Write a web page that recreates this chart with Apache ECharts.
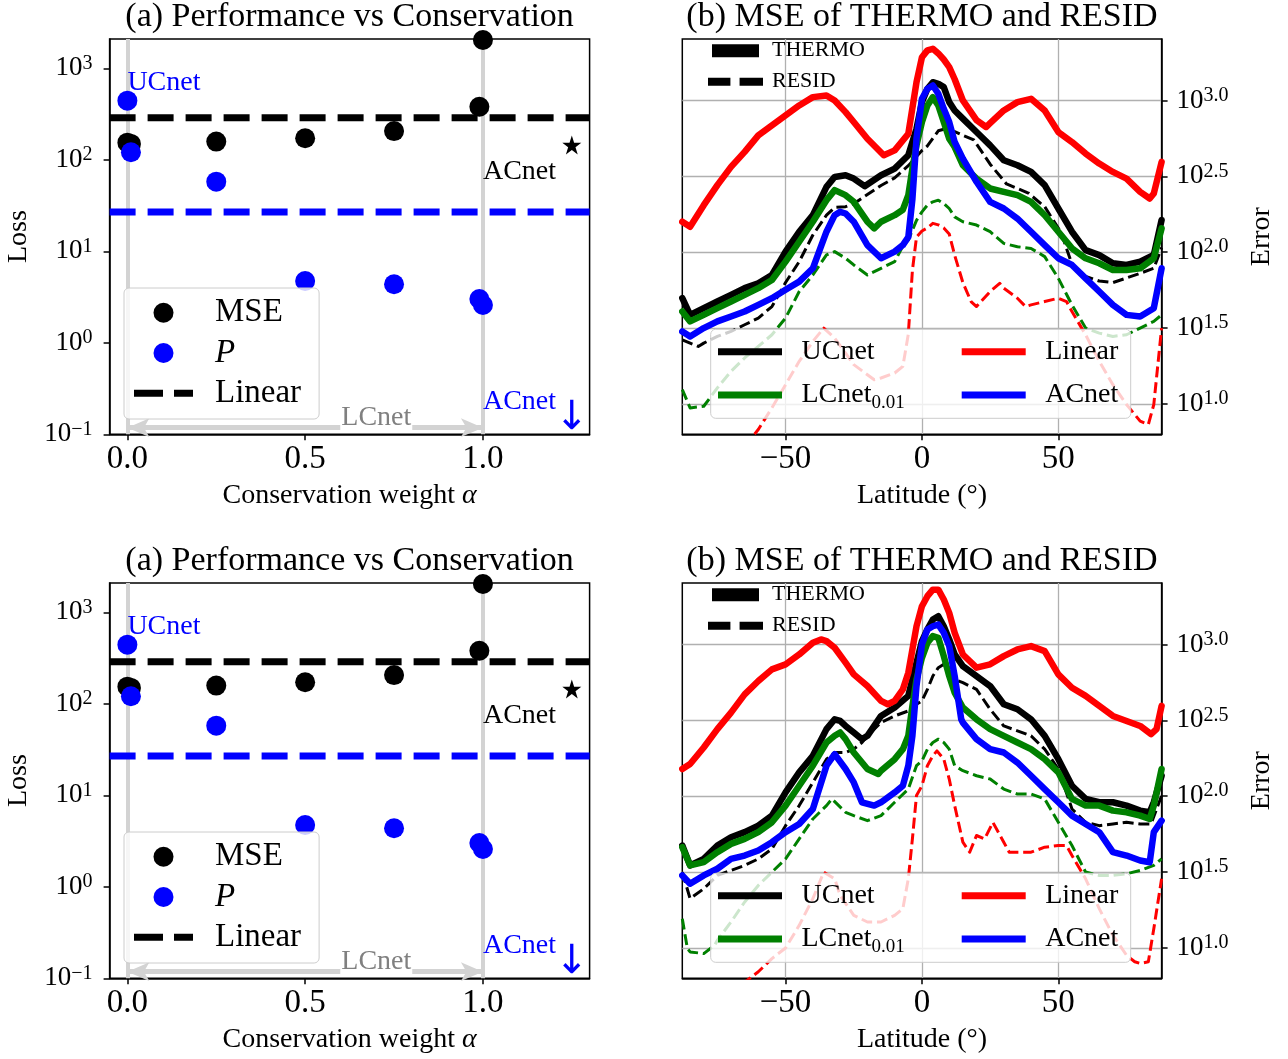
<!DOCTYPE html>
<html>
<head>
<meta charset="utf-8">
<title>Performance vs Conservation / MSE of THERMO and RESID</title>
<script src="https://cdn.jsdelivr.net/npm/echarts@6/dist/echarts.min.js"></script>
<style>
html, body { margin:0; padding:0; background:#ffffff; }
body { width:1288px; height:1059px; position:relative; overflow:hidden; }
.panel { position:absolute; }
</style>
</head>
<body>
<div id="a-top" class="panel" style="left:0px;top:0px;width:640px;height:515px;"></div>
<div id="b-top" class="panel" style="left:640px;top:0px;width:648px;height:515px;"></div>
<div id="a-bot" class="panel" style="left:0px;top:544px;width:640px;height:515px;"></div>
<div id="b-bot" class="panel" style="left:640px;top:544px;width:648px;height:515px;"></div>
<script>
// ================= Panel (a) data =================
const alphaValues = [0, 0.01, 0.25, 0.5, 0.75, 0.99, 1.0];
const mseLoss     = [154, 149, 158, 172, 206, 380, 2040];
const physLoss    = [443, 121, 57.7, 4.73, 4.36, 3.01, 2.59];
const linearMSE  = 288;
const linearPhys = 26.9;
const acnetAlpha = 1.25;
const acnetMSE   = 145;
const lcnetAlphaRange = [0, 1];
const guideAlphas = [0, 1];
const alphaRange = [-0.05, 1.3];
const lossRange  = [0.0999, 2090];
const alphaTicks = [0, 0.5, 1];
const lossTicks  = [0.1, 1, 10, 100, 1000];
const lcnetArrowLevel = 0.118;
const annotationsA = [
  { text: 'UCnet', at: [0, 700],      color: '#0000ff', anchor: 'left' },
  { text: 'ACnet', at: [1.0, 74],     color: '#000000', anchor: 'left' },
  { text: 'ACnet', at: [1.0, 0.227],  color: '#0000ff', anchor: 'left' },
  { text: 'LCnet', at: [0.70, 0.152], color: '#808080', anchor: 'center', bg: true },
  { text: '\u2193', at: [1.25, 0.15], color: '#0000ff', anchor: 'center', arrow: true }
];

// ================= Panel (b) data: [latitude, log10(error)] =================
const latRange   = [-87.86, 87.86];
const latTicks   = [-50, 0, 50];
const errorRange = [6.31, 2541];
const errorTicks = [10, 31.623, 100, 316.23, 1000];

// ---- top row ----
const ucnetThermoTop = [[-87.86,1.697],[-85,1.587],[-80,1.631],[-75,1.675],[-70,1.719],[-65,1.763],[-60,1.795],[-55,1.850],[-50,2.004],[-45,2.135],[-40,2.244],[-35,2.431],[-32,2.496],[-28,2.507],[-25,2.485],[-21,2.435],[-15,2.507],[-10,2.551],[-5,2.639],[-2,2.814],[0,2.989],[2,3.077],[4,3.12],[6,3.11],[8,3.088],[10,2.989],[12,2.934],[15,2.880],[20,2.792],[25,2.704],[30,2.606],[35,2.573],[40,2.529],[45,2.442],[50,2.288],[55,2.135],[60,2.014],[65,1.981],[70,1.927],[75,1.916],[80,1.938],[85,1.982],[87.86,2.212]];
const lcnetThermoTop = [[-87.86,1.609],[-85,1.544],[-80,1.587],[-75,1.631],[-70,1.675],[-65,1.719],[-60,1.763],[-55,1.817],[-50,1.938],[-45,2.069],[-40,2.201],[-35,2.343],[-32,2.409],[-28,2.376],[-25,2.332],[-20,2.201],[-17.5,2.157],[-15,2.201],[-10,2.244],[-7,2.28],[-5,2.376],[-3.5,2.551],[-2,2.704],[0,2.858],[2,2.967],[4,3.022],[6,2.967],[8,2.858],[10,2.748],[12,2.693],[15,2.573],[20,2.485],[25,2.420],[30,2.398],[35,2.376],[40,2.332],[45,2.244],[50,2.135],[55,2.026],[60,1.960],[65,1.927],[70,1.883],[75,1.883],[80,1.894],[85,1.960],[87.86,2.157]];
const linearThermoTop = [[-87.86,2.201],[-85,2.168],[-80,2.310],[-75,2.442],[-70,2.562],[-65,2.661],[-60,2.770],[-55,2.836],[-50,2.901],[-45,2.967],[-40,3.022],[-35,3.033],[-32,3.000],[-28,2.923],[-25,2.858],[-20,2.748],[-14,2.639],[-10,2.671],[-5,2.781],[-2,3.12],[0,3.285],[2,3.33],[4,3.34],[6,3.31],[8,3.27],[10,3.22],[12,3.14],[15,3.00],[20,2.87],[23.5,2.825],[25,2.85],[30,2.934],[35,2.989],[40,3.011],[45,2.934],[50,2.792],[55,2.726],[60,2.650],[65,2.584],[70,2.529],[75,2.485],[80,2.398],[83.5,2.354],[85,2.387],[87.86,2.595]];
const acnetThermoTop = [[-87.86,1.478],[-85,1.445],[-80,1.500],[-75,1.544],[-70,1.576],[-65,1.609],[-60,1.653],[-55,1.697],[-50,1.752],[-45,1.806],[-40,1.894],[-35,2.135],[-32,2.244],[-30,2.266],[-28,2.255],[-25,2.201],[-20,2.047],[-15,1.960],[-10,2.004],[-7,2.047],[-5,2.10],[-3.5,2.35],[-2,2.75],[0,3.011],[2,3.077],[4,3.099],[6,3.044],[8,2.945],[10,2.858],[12,2.726],[15,2.617],[20,2.464],[25,2.332],[30,2.288],[35,2.222],[40,2.135],[45,2.047],[50,1.960],[55,1.916],[60,1.828],[65,1.741],[70,1.653],[75,1.587],[80,1.576],[85,1.631],[87.86,1.894]];
const ucnetResidTop = [[-87.86,1.423],[-85,1.401],[-82,1.379],[-80,1.401],[-75,1.445],[-70,1.478],[-65,1.522],[-60,1.566],[-55,1.642],[-50,1.80],[-45,1.938],[-40,2.113],[-35,2.244],[-32,2.295],[-28,2.30],[-25,2.32],[-20,2.38],[-15,2.44],[-10,2.49],[-5,2.57],[-2,2.63],[0,2.67],[2,2.70],[4,2.75],[6,2.80],[8,2.81],[10,2.80],[12,2.795],[15,2.77],[19,2.74],[25,2.58],[31,2.45],[35,2.42],[39,2.39],[45,2.30],[51,2.13],[55,1.92],[60,1.84],[65,1.81],[70,1.80],[75,1.83],[80,1.861],[85,1.894],[87.86,2.03]];
const lcnetResidTop = [[-87.86,1.095],[-85,0.974],[-80,0.985],[-75,1.106],[-70,1.215],[-65,1.303],[-60,1.379],[-55,1.456],[-50,1.566],[-45,1.741],[-40,1.850],[-35,1.982],[-32,2.004],[-28,1.960],[-25,1.916],[-20,1.850],[-15,1.894],[-10,1.938],[-7,2.04],[-5,2.08],[-2,2.21],[0,2.266],[2,2.310],[4,2.332],[6,2.343],[8,2.321],[10,2.288],[12,2.233],[15,2.201],[20,2.179],[25,2.135],[30,2.058],[35,2.036],[40,2.025],[45,1.971],[50,1.828],[55,1.653],[60,1.500],[65,1.467],[70,1.445],[75,1.456],[80,1.500],[85,1.544],[87.86,1.587]];
const linearResidTop = [[-65,0.72],[-60,0.832],[-55,0.974],[-50,1.127],[-45,1.281],[-40,1.412],[-36,1.500],[-32,1.434],[-28,1.335],[-25,1.259],[-20,1.193],[-17.5,1.160],[-15,1.171],[-10,1.204],[-7,1.248],[-5,1.46],[-3.5,1.88],[-2,2.10],[0,2.14],[2,2.16],[4,2.19],[6,2.18],[8,2.16],[10,2.12],[12,1.98],[15,1.80],[18,1.675],[20,1.642],[25,1.741],[28.5,1.795],[30,1.763],[35,1.697],[38,1.642],[40,1.653],[45,1.675],[50,1.697],[53,1.675],[55,1.609],[60,1.456],[65,1.281],[70,1.127],[75,0.996],[80,0.887],[83,0.865],[85,0.996],[87.86,1.500]];

// ---- bottom row ----
const ucnetThermoBot = [[-87.86,1.675],[-85,1.544],[-80,1.587],[-75,1.675],[-70,1.730],[-65,1.763],[-60,1.806],[-55,1.872],[-50,2.025],[-45,2.157],[-40,2.266],[-35,2.442],[-32,2.507],[-30,2.496],[-28,2.463],[-25,2.420],[-22,2.376],[-20,2.398],[-15,2.529],[-10,2.584],[-5,2.661],[-2,2.880],[0,3.022],[2,3.099],[4,3.164],[6,3.186],[8,3.120],[10,3.033],[12,2.934],[15,2.858],[20,2.792],[25,2.726],[30,2.606],[35,2.573],[40,2.507],[45,2.398],[50,2.244],[55,2.069],[60,1.982],[65,1.960],[70,1.960],[75,1.938],[80,1.905],[83.5,1.894],[85,1.960],[87.86,2.135]];
const lcnetThermoBot = [[-87.86,1.664],[-85,1.544],[-80,1.566],[-75,1.631],[-70,1.686],[-65,1.719],[-60,1.763],[-55,1.828],[-50,1.938],[-45,2.069],[-40,2.201],[-35,2.354],[-32,2.398],[-30,2.420],[-28,2.376],[-25,2.288],[-20,2.179],[-16,2.146],[-15,2.168],[-10,2.244],[-7,2.310],[-5,2.398],[-3.5,2.595],[-2,2.770],[0,2.912],[2,3.011],[4,3.055],[6,3.044],[8,2.923],[10,2.792],[12,2.682],[15,2.584],[20,2.507],[25,2.442],[30,2.398],[35,2.354],[40,2.310],[45,2.244],[50,2.157],[55,1.982],[60,1.938],[65,1.938],[70,1.905],[75,1.894],[80,1.872],[83.5,1.850],[85,1.938],[87.86,2.179]];
const linearThermoBot = [[-87.86,2.179],[-85,2.212],[-80,2.321],[-75,2.442],[-70,2.551],[-65,2.671],[-60,2.759],[-55,2.836],[-50,2.869],[-45,2.934],[-40,3.011],[-37,3.033],[-35,3.022],[-32,2.978],[-28,2.880],[-25,2.803],[-20,2.726],[-15,2.628],[-12.5,2.606],[-10,2.628],[-7,2.704],[-5,2.814],[-2,3.120],[0,3.252],[2,3.318],[4,3.361],[6,3.361],[8,3.296],[10,3.208],[12,3.077],[15,2.934],[20,2.847],[25,2.869],[30,2.923],[35,2.967],[40,2.989],[45,2.956],[50,2.803],[55,2.715],[60,2.661],[65,2.595],[70,2.529],[75,2.496],[80,2.463],[84,2.409],[86,2.442],[87.86,2.595]];
const acnetThermoBot = [[-87.86,1.478],[-85,1.423],[-80,1.478],[-75,1.522],[-70,1.587],[-65,1.609],[-60,1.642],[-55,1.697],[-50,1.763],[-45,1.817],[-40,1.916],[-35,2.201],[-32,2.277],[-28,2.179],[-25,2.091],[-22,1.960],[-17.5,1.938],[-15,1.960],[-10,2.025],[-7,2.069],[-5,2.201],[-3.5,2.398],[-2,2.726],[0,3.000],[2,3.099],[4,3.120],[6,3.131],[8,3.077],[10,2.989],[12,2.792],[14.4,2.507],[15,2.485],[20,2.376],[25,2.310],[30,2.288],[35,2.222],[40,2.135],[45,2.047],[50,1.960],[55,1.872],[60,1.817],[65,1.763],[70,1.631],[75,1.609],[80,1.576],[83.5,1.565],[85,1.763],[87.86,1.839]];
const ucnetResidBot = [[-87.86,1.500],[-85,1.325],[-80,1.390],[-75,1.478],[-70,1.511],[-65,1.544],[-60,1.587],[-55,1.653],[-50,1.806],[-45,1.938],[-40,2.091],[-35,2.244],[-32,2.288],[-28,2.288],[-25,2.310],[-22,2.354],[-20,2.398],[-15,2.485],[-10,2.529],[-5,2.562],[-2,2.606],[0,2.628],[2,2.704],[4,2.792],[6,2.847],[8,2.869],[10,2.814],[12,2.770],[15,2.748],[20,2.704],[25,2.573],[30,2.463],[35,2.431],[40,2.398],[45,2.310],[50,2.179],[55,1.916],[60,1.828],[65,1.806],[70,1.817],[75,1.828],[80,1.817],[84,1.817],[87.86,2.004]];
const lcnetResidBot = [[-87.86,1.193],[-86,0.996],[-85,0.974],[-80,0.963],[-76,1.018],[-75,1.051],[-70,1.171],[-65,1.303],[-60,1.412],[-55,1.500],[-50,1.587],[-45,1.719],[-40,1.850],[-35,1.938],[-33,1.982],[-28,1.894],[-25,1.872],[-20,1.839],[-15,1.872],[-10,1.960],[-5,2.047],[-2,2.201],[0,2.233],[2,2.310],[4,2.354],[6,2.376],[8,2.354],[10,2.310],[12,2.201],[15,2.168],[20,2.135],[25,2.113],[30,2.047],[35,2.014],[40,2.014],[45,1.982],[50,1.828],[55,1.675],[60,1.500],[65,1.478],[70,1.478],[75,1.489],[80,1.511],[85,1.544],[87.86,1.587]];
const linearResidBot = [[-66,0.76],[-60,0.843],[-55,0.93],[-50,1.00],[-45,1.149],[-40,1.325],[-36,1.500],[-32,1.456],[-30,1.347],[-25,1.215],[-20,1.171],[-15,1.171],[-10,1.215],[-7,1.259],[-5,1.456],[-3.5,1.719],[-2,2.004],[0,2.069],[2,2.201],[4,2.266],[5.5,2.299],[8,2.244],[10,2.113],[12,1.938],[15,1.697],[17.5,1.631],[20,1.741],[23,1.719],[26,1.828],[30,1.697],[32,1.631],[35,1.631],[40,1.631],[45,1.664],[50,1.675],[53,1.675],[55,1.609],[60,1.456],[65,1.259],[70,1.084],[75,0.952],[78,0.909],[80,0.898],[83,0.909],[85,1.127],[87.86,1.456]];

// ================= styling =================
const FONT = 'Liberation Serif';
const BLACK = '#000000', BLUE = '#0000ff', RED = '#ff0000', GREEN = '#008000';
const GUIDE = '#d3d3d3', GRIDC = '#b0b0b0';
const STAR = 'path://M50,0L61.8,35.1L98.8,35.1L68.9,56.9L80.3,91.9L50,70.2L19.7,91.9L31.1,56.9L1.2,35.1L38.2,35.1Z';
const supRich = {
  b: { fontFamily: FONT, fontSize: 27, lineHeight: 30, color: BLACK },
  s: { fontFamily: FONT, fontSize: 20, lineHeight: 20, verticalAlign: 'top', color: BLACK }
};

function axisLineStyle() { return { color: BLACK, width: 1.5 }; }

function buildPanelA(el) {
  const chart = echarts.init(el, null, { renderer: 'canvas', devicePixelRatio: 1 });
  const pts = (xs, ys) => xs.map((x, i) => [x, ys[i]]);
  const markData = annotationsA.map(a => ({
    coord: a.at,
    symbol: 'circle',
    symbolSize: 0,
    label: {
      show: true,
      formatter: a.text,
      position: a.anchor === 'left' ? 'right' : 'inside',
      distance: 0,
      color: a.color,
      fontFamily: a.arrow ? 'DejaVu Sans' : FONT,
      fontSize: a.arrow ? 40 : 28,
      lineHeight: a.arrow ? 40 : 30,
      backgroundColor: a.bg ? '#ffffff' : 'transparent',
      padding: a.bg ? [0, 1] : 0
    }
  }));
  chart.setOption({
    animation: false,
    backgroundColor: 'transparent',
    title: {
      text: '(a) Performance vs Conservation', left: 349.6, top: 0, textAlign: 'center', padding: 0,
      textStyle: { fontFamily: FONT, fontSize: 34, fontWeight: 'normal', color: BLACK, lineHeight: 34 }
    },
    grid: { left: 109.6, top: 39, width: 480, height: 395.3, show: true, borderColor: BLACK, borderWidth: 1.5,
            backgroundColor: 'transparent', containLabel: false, outerBoundsMode: 'none' },
    xAxis: {
      type: 'value', min: alphaRange[0], max: alphaRange[1],
      name: 'Conservation weight {i|α}', nameLocation: 'middle', nameGap: 44.7,
      nameTextStyle: { fontFamily: FONT, fontSize: 28, color: BLACK, lineHeight: 28,
        rich: { i: { fontFamily: FONT, fontSize: 28, fontStyle: 'italic', color: BLACK, lineHeight: 28 } } },
      axisLine: { show: true, onZero: false, lineStyle: axisLineStyle() },
      axisTick: { show: true, inside: false, length: 6, customValues: alphaTicks, lineStyle: axisLineStyle() },
      axisLabel: { show: true, customValues: alphaTicks, formatter: v => v.toFixed(1), fontFamily: FONT,
                   fontSize: 33, color: BLACK, margin: 9 },
      splitLine: { show: false }
    },
    yAxis: {
      type: 'log', logBase: 10, min: lossRange[0], max: lossRange[1],
      name: 'Loss', nameLocation: 'middle', nameRotate: 90, nameGap: 77,
      nameTextStyle: { fontFamily: FONT, fontSize: 28, color: BLACK, lineHeight: 28 },
      axisLine: { show: true, onZero: false, lineStyle: axisLineStyle() },
      axisTick: { show: true, inside: false, length: 6, customValues: lossTicks, lineStyle: axisLineStyle() },
      axisLabel: { show: true, customValues: lossTicks, margin: 17,
        formatter: v => { const e = Math.round(Math.log10(v)); return '{b|10}{s|' + (e < 0 ? '\u2212' + (-e) : e) + '}'; },
        rich: supRich },
      splitLine: { show: false }, minorTick: { show: false }, minorSplitLine: { show: false }
    },
    legend: {
      orient: 'vertical', left: 124, top: 288, padding: [7.7, 18, 8.7, 10],
      itemWidth: 59, itemHeight: 20, itemGap: 6.3, selectedMode: false,
      backgroundColor: 'rgba(255,255,255,0.8)', borderColor: '#cccccc', borderWidth: 1, borderRadius: 5,
      itemStyle: { borderWidth: 0, opacity: 1 },
      formatter: n => n === 'P' ? '{i|P}' : n,
      textStyle: { fontFamily: FONT, fontSize: 33, lineHeight: 34, color: BLACK, padding: [0, 0, 0, 17],
        rich: { i: { fontFamily: FONT, fontStyle: 'italic', fontSize: 33, lineHeight: 34, color: BLACK } } },
      data: [
        { name: 'MSE', icon: 'circle' },
        { name: 'P', icon: 'circle' },
        { name: 'Linear', icon: 'path://M0,0h29v7h-29z M40,0h19v7h-19z' }
      ]
    },
    series: [
      {
        type: 'line', name: 'Linear', color: BLACK, symbol: 'none', silent: true, z: 2,
        data: [[alphaRange[0], linearMSE], [alphaRange[1], linearMSE]],
        lineStyle: { color: BLACK, width: 7, type: [26, 12], cap: 'butt', opacity: 1 },
        markLine: {
          silent: true, z: 1, symbol: ['arrow', 'arrow'], symbolSize: [14, 22],
          label: { show: false },
          lineStyle: { color: GUIDE, width: 5, type: 'solid', opacity: 1 },
          data: [[{ coord: [lcnetAlphaRange[0], lcnetArrowLevel] }, { coord: [lcnetAlphaRange[1], lcnetArrowLevel] }]]
        }
      },
      {
        type: 'line', name: 'Linear P', color: BLUE, symbol: 'none', silent: true, z: 2,
        data: [[alphaRange[0], linearPhys], [alphaRange[1], linearPhys]],
        lineStyle: { color: BLUE, width: 7, type: [26, 12], cap: 'butt', opacity: 1 },
        markLine: {
          silent: true, z: 1, symbol: ['none', 'none'],
          label: { show: false },
          lineStyle: { color: GUIDE, width: 4, type: 'solid', opacity: 1 },
          data: guideAlphas.map(a => ({ xAxis: a }))
        }
      },
      { type: 'scatter', name: 'MSE', color: BLACK, data: pts(alphaValues, mseLoss), symbolSize: 20, z: 3, silent: true,
        itemStyle: { color: BLACK, opacity: 1 } },
      { type: 'scatter', name: 'P', color: BLUE, data: pts(alphaValues, physLoss), symbolSize: 20, z: 3, silent: true,
        itemStyle: { color: BLUE, opacity: 1 } },
      { type: 'scatter', name: 'ACnet MSE', color: BLACK, data: [[acnetAlpha, acnetMSE]], symbol: STAR, symbolSize: 19, z: 3, silent: true,
        itemStyle: { color: BLACK, opacity: 1 },
        markPoint: { silent: true, z: 5, data: markData } }
    ]
  });
}

function buildPanelB(el, d) {
  const chart = echarts.init(el, null, { renderer: 'canvas', devicePixelRatio: 1 });
  const toVals = pairs => pairs.map(p => [p[0], Math.pow(10, p[1])]);
  const solid = (name, pairs, color) => ({
    type: 'line', name, color, data: toVals(pairs), symbol: 'none', showSymbol: false, silent: true, z: 2, clip: true,
    itemStyle: { color, opacity: 1 },
    lineStyle: { color, width: 6.5, join: 'round', cap: 'round', opacity: 1 }
  });
  const dashed = (name, pairs, color) => ({
    type: 'line', name, color, data: toVals(pairs), symbol: 'none', showSymbol: false, silent: true, z: 2, clip: true,
    itemStyle: { color, opacity: 1 },
    lineStyle: { color, width: 3, type: [11, 4.8], join: 'round', cap: 'butt', opacity: 1 }
  });
  const legText = { fontFamily: FONT, fontSize: 28, lineHeight: 36, color: BLACK, padding: [0, 0, 0, 14.5],
    rich: {
      a: { fontFamily: FONT, fontSize: 28, lineHeight: 36, color: BLACK },
      s: { fontFamily: FONT, fontSize: 19, lineHeight: 20, verticalAlign: 'bottom', color: BLACK }
    } };
  const legFmt = n => n === 'LCnet' ? '{a|LCnet}{s|0.01}' : '{a|' + n + '}';
  chart.setOption({
    animation: false,
    backgroundColor: 'transparent',
    title: {
      text: '(b) MSE of THERMO and RESID', left: 282, top: 0, textAlign: 'center', padding: 0,
      textStyle: { fontFamily: FONT, fontSize: 34, fontWeight: 'normal', color: BLACK, lineHeight: 34 }
    },
    grid: { left: 42.3, top: 39, width: 479.3, height: 395.3, show: true, borderColor: BLACK, borderWidth: 1.5,
            backgroundColor: 'transparent', containLabel: false, outerBoundsMode: 'none' },
    xAxis: {
      type: 'value', min: latRange[0], max: latRange[1],
      name: 'Latitude (°)', nameLocation: 'middle', nameGap: 44.7,
      nameTextStyle: { fontFamily: FONT, fontSize: 28, color: BLACK, lineHeight: 28 },
      axisLine: { show: true, onZero: false, lineStyle: axisLineStyle() },
      axisTick: { show: true, inside: false, length: 6, customValues: latTicks, lineStyle: axisLineStyle() },
      axisLabel: { show: true, customValues: latTicks, formatter: v => v < 0 ? '\u2212' + Math.abs(v) : String(v),
                   fontFamily: FONT, fontSize: 33, color: BLACK, margin: 9 },
      splitLine: { show: true, lineStyle: { color: GRIDC, width: 1.3 } }
    },
    yAxis: {
      type: 'log', logBase: 10, position: 'right', min: errorRange[0], max: errorRange[1],
      name: 'Error', nameLocation: 'middle', nameRotate: 90, nameGap: 86,
      nameTextStyle: { fontFamily: FONT, fontSize: 28, color: BLACK, lineHeight: 28 },
      axisLine: { show: true, onZero: false, lineStyle: axisLineStyle() },
      axisTick: { show: true, inside: false, length: 6, customValues: errorTicks, lineStyle: axisLineStyle() },
      axisLabel: { show: true, customValues: errorTicks, margin: 15,
        formatter: v => '{b|10}{s|' + Math.log10(v).toFixed(1) + '}', rich: supRich },
      splitLine: { show: true, lineStyle: { color: GRIDC, width: 1.3 } },
      minorTick: { show: false }, minorSplitLine: { show: false }
    },
    legend: [
      { orient: 'vertical', left: 68, top: 37.7, padding: 0, itemWidth: 55, itemHeight: 13, itemGap: 5,
        selectedMode: false, itemStyle: { borderWidth: 0, opacity: 1 },
        textStyle: { fontFamily: FONT, fontSize: 22, lineHeight: 26, color: BLACK, padding: [0, 0, 0, 4] },
        data: [ { name: 'THERMO', icon: 'path://M0,0h47v13h-47z' },
                { name: 'RESID', icon: 'path://M0,0h22v8h-22z M31,0h23v8h-23z' } ] },
      { orient: 'vertical', left: 78, top: 333.7, padding: 0, itemWidth: 64, itemHeight: 7, itemGap: 7.3,
        icon: 'rect', selectedMode: false, itemStyle: { borderWidth: 0, opacity: 1 }, formatter: legFmt, textStyle: legText,
        data: ['UCnet', 'LCnet'] },
      { orient: 'vertical', left: 321.7, top: 333.7, padding: 0, itemWidth: 64, itemHeight: 7, itemGap: 7.3,
        icon: 'rect', selectedMode: false, itemStyle: { borderWidth: 0, opacity: 1 }, formatter: legFmt, textStyle: legText,
        data: ['Linear', 'ACnet'] }
    ],
    graphic: { elements: [ {
      type: 'rect', z: 3, silent: true,
      shape: { x: 70.7, y: 329.3, width: 420, height: 89, r: 5 },
      style: { fill: 'rgba(255,255,255,0.8)', stroke: '#cccccc', lineWidth: 1 }
    } ] },
    series: [
      { type: 'line', name: 'THERMO', color: BLACK, data: [], symbol: 'none', itemStyle: { color: BLACK, opacity: 1 } },
      { type: 'line', name: 'RESID', color: BLACK, data: [], symbol: 'none', itemStyle: { color: BLACK, opacity: 1 } },
      solid('UCnet', d.ucT, BLACK),
      dashed('UCnet RESID', d.ucR, BLACK),
      solid('LCnet', d.lcT, GREEN),
      dashed('LCnet RESID', d.lcR, GREEN),
      solid('Linear', d.liT, RED),
      dashed('Linear RESID', d.liR, RED),
      solid('ACnet', d.acT, BLUE)
    ]
  });
}

buildPanelA(document.getElementById('a-top'));
buildPanelA(document.getElementById('a-bot'));
buildPanelB(document.getElementById('b-top'), {
  ucT: ucnetThermoTop, lcT: lcnetThermoTop, liT: linearThermoTop, acT: acnetThermoTop,
  ucR: ucnetResidTop, lcR: lcnetResidTop, liR: linearResidTop
});
buildPanelB(document.getElementById('b-bot'), {
  ucT: ucnetThermoBot, lcT: lcnetThermoBot, liT: linearThermoBot, acT: acnetThermoBot,
  ucR: ucnetResidBot, lcR: lcnetResidBot, liR: linearResidBot
});
</script>
</body>
</html>
